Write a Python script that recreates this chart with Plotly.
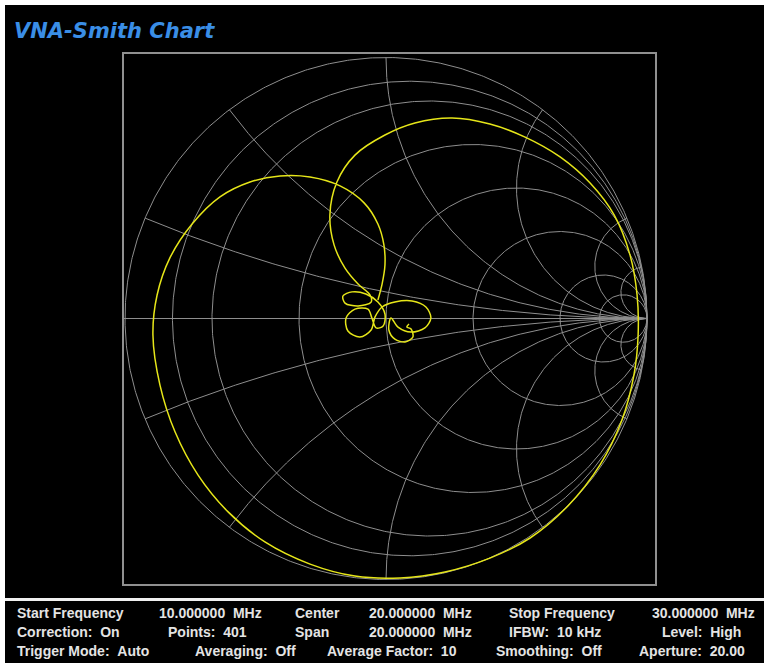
import numpy as np
import plotly.graph_objects as go

# ---- measured reflection coefficient (S11) trace, 10 MHz .. 30 MHz ----
gamma_re = [-0.031, -0.015, -0.004, -0.008, -0.031, -0.084, -0.176, -0.291, -0.406, -0.521,
            -0.636, -0.743, -0.828, -0.877, -0.893, -0.866, -0.808, -0.720, -0.605, -0.464,
            -0.291, -0.119, 0.054, 0.226, 0.398, 0.552, 0.697, 0.820, 0.904, 0.950,
            0.966, 0.962, 0.935, 0.874, 0.782, 0.667, 0.533, 0.398, 0.253, 0.111,
            -0.004, -0.119, -0.188, -0.215, -0.199, -0.157, -0.107, -0.061,
            -0.057, -0.107, -0.157, -0.165, -0.130, -0.077, -0.031,
            -0.004, -0.011, -0.038, -0.054, -0.069,
            -0.119, -0.153, -0.146, -0.100, -0.057, -0.042, -0.015,
            0.034, 0.100, 0.153, 0.172, 0.149, 0.096, 0.046, 0.019,
            0.011, 0.034, 0.073, 0.103, 0.096, 0.080, 0.088]
gamma_im = [0.071, 0.132, 0.205, 0.282, 0.362, 0.443, 0.508, 0.542, 0.546, 0.523,
            0.466, 0.362, 0.232, 0.090, -0.063, -0.255, -0.435, -0.600, -0.741, -0.856,
            -0.941, -0.987, -0.994, -0.971, -0.918, -0.841, -0.718, -0.561, -0.389, -0.216,
            -0.063, 0.090, 0.243, 0.397, 0.519, 0.619, 0.695, 0.745, 0.768, 0.749,
            0.703, 0.626, 0.523, 0.397, 0.282, 0.193, 0.132, 0.090,
            0.063, 0.048, 0.059, 0.086, 0.102, 0.094, 0.063,
            0.017, -0.029, -0.036, 0.002, 0.036,
            0.036, 0.002, -0.048, -0.071, -0.044, 0.006, 0.044,
            0.063, 0.067, 0.044, 0.002, -0.036, -0.052, -0.033, 0.002,
            -0.044, -0.079, -0.090, -0.071, -0.040, -0.033, -0.021]

# ---- Smith chart grid values ----
r_values = [0, 0.1, 0.2, 0.5, 1, 2, 5, 10]
x_values = [0.2, 0.5, 1, 2, 5, 10]

# ---- status bar text ----
row1 = [("Start Frequency", 15), ("10.000000\u00a0\u00a0MHz", 157), ("Center", 293),
        ("20.000000\u00a0\u00a0MHz", 367), ("Stop Frequency", 507), ("30.000000\u00a0\u00a0MHz", 650)]
row2 = [("Correction:\u00a0\u00a0On", 15), ("Points:\u00a0\u00a0401", 166), ("Span", 293),
        ("20.000000\u00a0\u00a0MHz", 367), ("IFBW:\u00a0\u00a010 kHz", 507), ("Level:\u00a0\u00a0High", 660)]
row3 = [("Trigger Mode:\u00a0\u00a0Auto", 15), ("Averaging:\u00a0\u00a0Off", 193),
        ("Average Factor:\u00a0\u00a010", 325), ("Smoothing:\u00a0\u00a0Off", 494),
        ("Aperture:\u00a0\u00a020.00", 637)]

W, H = 764, 663
def px(x):
    return x / W
def py(y):
    return 1 - y / H

grid_color = "#8e8e8e"
fig = go.Figure()

# resistance circles
th = np.linspace(0, 2 * np.pi, 721)
for r in r_values:
    c = r / (1 + r)
    rad = 1 / (1 + r)
    fig.add_trace(go.Scatter(x=c + rad * np.cos(th), y=rad * np.sin(th), mode="lines",
                             line=dict(color=grid_color, width=1), hoverinfo="skip",
                             showlegend=False))

# reactance arcs
rr = np.r_[0, np.logspace(-3, 4, 700)]
for xv in x_values:
    for s in (1, -1):
        z = rr + 1j * s * xv
        g = (z - 1) / (z + 1)
        fig.add_trace(go.Scatter(x=g.real, y=g.imag, mode="lines",
                                 line=dict(color=grid_color, width=1), hoverinfo="skip",
                                 showlegend=False))

xr = [(124 - 386) / 261, (655 - 386) / 261]
yr = [(318.5 - 584) / 261, (318.5 - 54) / 261]

# real axis
fig.add_trace(go.Scatter(x=[xr[0], 1], y=[0, 0], mode="lines",
                         line=dict(color=grid_color, width=1), hoverinfo="skip",
                         showlegend=False))

# measured trace
fig.add_trace(go.Scatter(x=gamma_re, y=gamma_im, mode="lines",
                         line=dict(color="#e6e619", width=1.5, shape="spline", smoothing=0.9),
                         showlegend=False, name="S11"))

fig.update_xaxes(domain=[px(124), px(655)], range=xr, showgrid=False, zeroline=False,
                 showticklabels=False, ticks="", showline=True, mirror=True,
                 linecolor="#909090", linewidth=1.5)
fig.update_yaxes(domain=[py(584), py(54)], range=yr, showgrid=False, zeroline=False,
                 showticklabels=False, ticks="", showline=True, mirror=True,
                 linecolor="#909090", linewidth=1.5)

shapes = [
    dict(type="rect", xref="paper", yref="paper", x0=0, x1=1, y0=py(5), y1=1,
         fillcolor="white", line=dict(width=0), layer="above"),
    dict(type="rect", xref="paper", yref="paper", x0=0, x1=px(5), y0=0, y1=1,
         fillcolor="white", line=dict(width=0), layer="above"),
    dict(type="line", xref="paper", yref="paper", x0=px(5), x1=1, y0=py(599.5), y1=py(599.5),
         line=dict(color="#f0f0f0", width=3)),
]

annotations = [
    dict(text="<b><i>VNA-Smith Chart</i></b>", xref="paper", yref="paper", x=px(12), y=py(31),
         xanchor="left", yanchor="middle", showarrow=False,
         font=dict(family="DejaVu Sans", size=21, color="#3a8ee6")),
]
for row, yy in ((row1, 613), (row2, 632), (row3, 651)):
    for txt, xx in row:
        annotations.append(dict(text="<b>" + txt + "</b>", xref="paper", yref="paper",
                                x=px(xx), y=py(yy), xanchor="left", yanchor="middle",
                                showarrow=False,
                                font=dict(family="Liberation Sans", size=14, color="#e4e4e4")))

fig.update_layout(width=W, height=H, margin=dict(l=0, r=0, t=0, b=0),
                  paper_bgcolor="black", plot_bgcolor="black",
                  shapes=shapes, annotations=annotations)

fig.write_html("out.html", config={"displayModeBar": False},
               post_script="document.body.style.margin='0';document.body.style.overflow='hidden';")
